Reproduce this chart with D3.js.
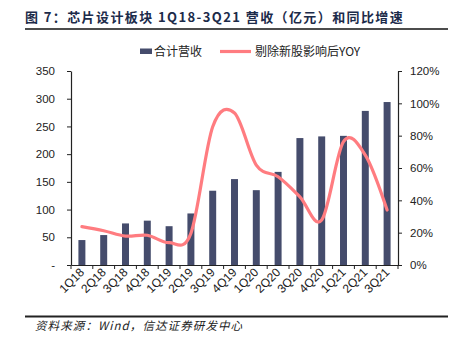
<!DOCTYPE html>
<html><head><meta charset="utf-8">
<script src="https://cdn.jsdelivr.net/npm/d3@7/dist/d3.min.js"></script>
<style>body{margin:0;background:#fff}svg{display:block}</style>
</head><body>
<svg id="c" width="457" height="346"></svg>
<script>
const categories = ["1Q18","2Q18","3Q18","4Q18","1Q19","2Q19","3Q19","4Q19","1Q20","2Q20","3Q20","4Q20","1Q21","2Q21","3Q21"];
const revenue = [45, 54, 75, 80, 70, 93, 134, 155, 135, 168, 229, 232, 233, 278, 294];
const yoy = [0.237, 0.212, 0.179, 0.184, 0.138, 0.196, 0.855, 0.94, 0.618, 0.546, 0.422, 0.278, 0.763, 0.68, 0.34];
const leftTicks = [0, 50, 100, 150, 200, 250, 300, 350];
const leftTickLabels = ["-", "50", "100", "150", "200", "250", "300", "350"];
const rightTicks = [0, 0.2, 0.4, 0.6, 0.8, 1.0, 1.2];
const seriesNames = ["合计营收", "剔除新股影响后YOY"];
const titleText = "图 7：芯片设计板块 1Q18-3Q21 营收（亿元）和同比增速";
const sourceText = "资料来源：Wind，信达证券研发中心";

const svg = d3.select("#c");
const L = 71, R = 398, T = 71, B = 265;
const barColor = "#454C6C", lineColor = "#FF7C80";
const font = "'Liberation Sans', Arial, sans-serif";

const x = d3.scaleBand().domain(categories).range([L, R]).paddingInner(0.68).paddingOuter(0.34);
const xb = d3.scaleBand().domain(categories).range([L, R]);
const yL = d3.scaleLinear().domain([0, 350]).range([B, T]);
const yR = d3.scaleLinear().domain([0, 1.2]).range([B, T]);

// Title
svg.append("text").attr("x", 25).attr("y", 22)
  .attr("font-family", "'Noto Sans CJK SC', sans-serif").attr("font-weight", "bold")
  .attr("font-size", 13).attr("letter-spacing", 1.4).attr("fill", "#1C2B4A").text(titleText);
svg.append("line").attr("x1", 25).attr("x2", 448).attr("y1", 29).attr("y2", 29)
  .attr("stroke", "#111").attr("stroke-width", 1.5);

// Bars
svg.append("g").selectAll("rect").data(revenue).join("rect")
  .attr("x", (d, i) => x(categories[i]))
  .attr("width", x.bandwidth())
  .attr("y", d => yL(d))
  .attr("height", d => B - yL(d))
  .attr("fill", barColor);

// Line
const line = d3.line()
  .x((d, i) => xb(categories[i]) + xb.bandwidth() / 2)
  .y(d => yR(d))
  .curve(d3.curveCardinal.tension(0));
svg.append("path").datum(yoy).attr("d", line)
  .attr("fill", "none").attr("stroke", lineColor).attr("stroke-width", 3.2)
  .attr("stroke-linejoin", "round").attr("stroke-linecap", "round");

// Left axis
const axL = svg.append("g").attr("transform", `translate(${L},0)`)
  .call(d3.axisLeft(yL).tickValues(leftTicks).tickFormat((d, i) => leftTickLabels[i]).tickSize(4).tickPadding(12).tickSizeOuter(0));
// Right axis
const axR = svg.append("g").attr("transform", `translate(${R},0)`)
  .call(d3.axisRight(yR).tickValues(rightTicks).tickFormat(d3.format(".0%")).tickSize(4).tickPadding(8).tickSizeOuter(0));
// Bottom axis
const axB = svg.append("g").attr("transform", `translate(0,${B})`)
  .call(d3.axisBottom(xb).tickSize(0).tickPadding(0).tickSizeOuter(0));
axB.selectAll(".tick text").remove();
// boundary ticks
svg.append("g").selectAll("line").data(d3.range(categories.length + 1)).join("line")
  .attr("x1", i => L + i * xb.step()).attr("x2", i => L + i * xb.step())
  .attr("y1", B).attr("y2", B + 4).attr("stroke", "#222").attr("stroke-width", 1);
// x labels rotated
svg.append("g").selectAll("text").data(categories).join("text")
  .attr("transform", d => `translate(${xb(d) + xb.bandwidth() / 2 + 3},${B + 8}) rotate(-45)`)
  .attr("text-anchor", "end").attr("font-family", font).attr("font-size", 12).attr("fill", "#222")
  .text(d => d);

[axL, axR, axB].forEach(a => {
  a.selectAll(".domain").attr("stroke", "#222").attr("stroke-width", 1.2);
  a.selectAll(".tick line").attr("stroke", "#222");
  a.selectAll(".tick text").attr("font-family", font).attr("font-size", 11.5).attr("fill", "#222");
});

// Legend
const lg = svg.append("g");
lg.append("rect").attr("x", 140).attr("y", 48.5).attr("width", 12).attr("height", 5.5).attr("fill", barColor);
lg.append("text").attr("x", 154).attr("y", 56).attr("font-family", "'Noto Sans CJK SC', sans-serif")
  .attr("font-size", 12).attr("fill", "#222").text(seriesNames[0]);
lg.append("line").attr("x1", 220).attr("x2", 251).attr("y1", 51.5).attr("y2", 51.5)
  .attr("stroke", lineColor).attr("stroke-width", 3.2);
lg.append("text").attr("x", 255).attr("y", 56).attr("font-family", "'Noto Sans CJK SC', sans-serif")
  .attr("font-size", 12).attr("fill", "#222").text(seriesNames[1]);

// Footer
svg.append("line").attr("x1", 25).attr("x2", 448).attr("y1", 316.5).attr("y2", 316.5)
  .attr("stroke", "#222").attr("stroke-width", 2);
svg.append("text").attr("x", 35).attr("y", 330).attr("font-family", "'Noto Sans CJK SC', sans-serif")
  .attr("font-style", "italic").attr("font-size", 11.5).attr("letter-spacing", 1.1).attr("fill", "#222").text(sourceText);
</script>
</body></html>
